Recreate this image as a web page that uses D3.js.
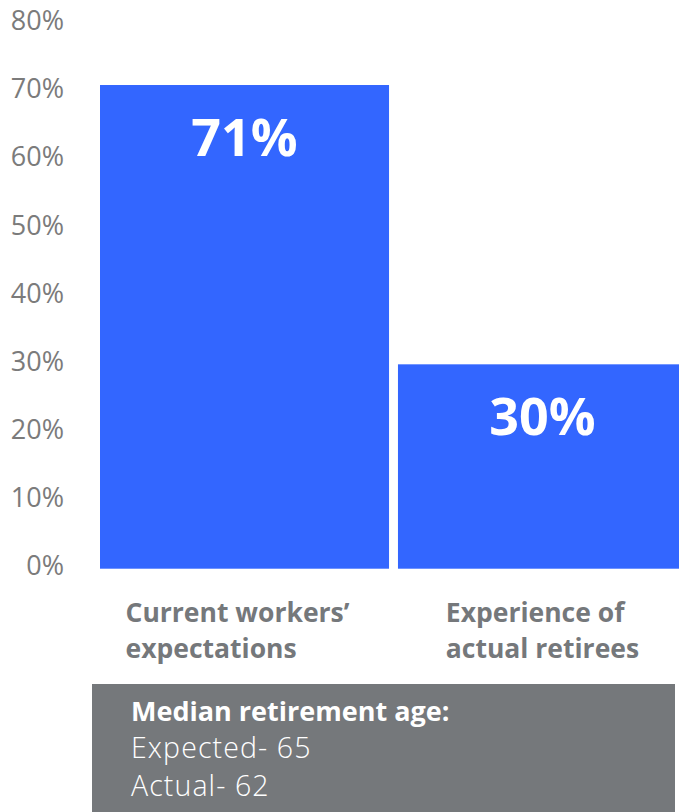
<!DOCTYPE html>
<html>
<head>
<meta charset="utf-8">
<script src="https://cdn.jsdelivr.net/npm/d3@7"></script>
<style>
  html, body { margin: 0; padding: 0; background: #fff; }
  svg { display: block; font-family: "Open Sans", "Noto Sans", sans-serif; }
</style>
</head>
<body>
<svg id="chart" width="679" height="812"></svg>
<script>
// Share of people who retire at or after the expected age
const categories = [["Current workers\u2019", "expectations"], ["Experience of", "actual retirees"]];
const values = [71, 30];
const tickValues = [0, 10, 20, 30, 40, 50, 60, 70, 80];
const noteLines = ["Median retirement age:", "Expected- 65", "Actual- 62"];

const svg = d3.select("#chart");
const barColor = "#3366ff";
const gray = "#75787b";

const y = d3.scaleLinear().domain([0, 80]).range([568.7, 23.7]);
const x = d3.scaleBand().domain(d3.range(values.length)).range([100, 687]).paddingInner(0.03);

// Y axis labels only, no line or tick marks
const yAxis = d3.axisLeft(y).tickValues(tickValues).tickFormat(d => d + "%").tickSize(0).tickPadding(0);
const ag = svg.append("g").attr("transform", "translate(64,0)").call(yAxis);
ag.select(".domain").remove();
ag.selectAll("text")
  .attr("font-family", "'Open Sans', sans-serif")
  .attr("font-size", 27)
  .attr("fill", "#7b7b7b")
  .attr("dy", "0.22em");

// Bars
svg.append("g").selectAll("rect").data(values).join("rect")
  .attr("x", (d, i) => x(i))
  .attr("y", d => y(d))
  .attr("width", x.bandwidth())
  .attr("height", d => y(0) - y(d))
  .attr("fill", barColor);

// Value labels inside bars
svg.append("g").selectAll("text").data(values).join("text")
  .attr("x", (d, i) => x(i) + x.bandwidth() / 2)
  .attr("y", d => y(d) + 71)
  .attr("text-anchor", "middle")
  .attr("font-size", 52)
  .attr("font-weight", 700)
  .attr("fill", "#fff")
  .text(d => d + "%");

// Category labels: a left-aligned block centred under each bar
const labelNudge = [-7, 0];
categories.forEach((lines, i) => {
  const g = svg.append("g");
  const t = g.selectAll("text").data(lines).join("text")
    .attr("y", (d, j) => 622 + j * 36)
    .attr("font-size", 26.5)
    .attr("font-weight", 700)
    .attr("fill", gray)
    .text(d => d);
  let w = 0;
  t.each(function () { w = Math.max(w, this.getComputedTextLength()); });
  t.attr("x", x(i) + x.bandwidth() / 2 - w / 2 + labelNudge[i]);
});

// Note box
svg.append("rect")
  .attr("x", 92).attr("y", 684)
  .attr("width", 583).attr("height", 140)
  .attr("fill", gray);

svg.append("g").selectAll("text").data(noteLines).join("text")
  .attr("x", 131)
  .attr("y", (d, i) => 720.5 + i * 37.5)
  .attr("font-size", (d, i) => i === 0 ? 27 : 28.5)
  .attr("font-weight", (d, i) => i === 0 ? 700 : 300)
  .attr("letter-spacing", (d, i) => i === 0 ? 0 : 1.1)
  .attr("fill", "#fff")
  .text(d => d);
</script>
</body>
</html>
